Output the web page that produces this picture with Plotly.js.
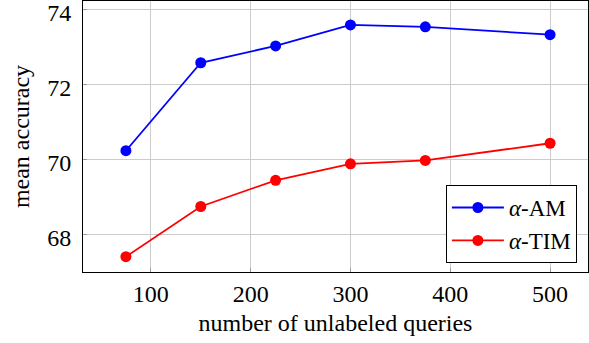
<!DOCTYPE html>
<html><head><meta charset="utf-8">
<script src="https://cdn.plot.ly/plotly-3.0.1.min.js"></script>
<style>html,body{margin:0;padding:0;background:#fff}#chart{width:589px;height:343px}</style>
</head><body><div id="chart"></div>
<script>
const queries = [75, 150, 225, 300, 375, 500];
const amAccuracy = [70.24, 72.59, 73.04, 73.6, 73.55, 73.34];
const timAccuracy = [67.41, 68.75, 69.45, 69.89, 69.98, 70.44];
const seriesNames = ['<i>α</i>-AM', '<i>α</i>-TIM'];
const xTicks = [100, 200, 300, 400, 500];
const yTicks = [68, 70, 72, 74];

const fam = 'Liberation Serif';
const fs = 24;
const traces = [
  {x: queries, y: amAccuracy, name: seriesNames[0], mode: 'lines+markers',
   line: {color: '#0000ff', width: 1.8}, marker: {color: '#0000ff', size: 11}},
  {x: queries, y: timAccuracy, name: seriesNames[1], mode: 'lines+markers',
   line: {color: '#ff0000', width: 1.8}, marker: {color: '#ff0000', size: 11}}
];
const layout = {
  width: 589, height: 343,
  margin: {l: 83, r: 1, t: 1, b: 71},
  paper_bgcolor: '#fff', plot_bgcolor: '#fff',
  font: {family: fam, size: fs, color: '#000'},
  showlegend: true,
  legend: {x: 0.978, y: 0.033, xanchor: 'right', yanchor: 'bottom',
    bgcolor: '#fff', bordercolor: '#000', borderwidth: 1,
    itemwidth: 52,
    font: {family: fam, size: 23, color: '#000'}, tracegroupgap: 0},
  xaxis: {range: [32, 538], tickvals: xTicks, ticktext: xTicks.map(String),
    showgrid: true, gridcolor: '#cccccc', gridwidth: 1,
    showline: true, linecolor: '#000', linewidth: 1, mirror: true,
    ticks: 'inside', ticklen: 4, tickcolor: '#999', zeroline: false,
    ticklabeloverflow: 'allow',
    tickfont: {family: fam, size: fs, color: '#000'},
    title: {text: 'number of unlabeled queries', font: {family: fam, size: fs, color: '#000'}, standoff: 8}},
  yaxis: {range: [67.0, 74.24], tickvals: yTicks, ticktext: yTicks.map(String),
    showgrid: true, gridcolor: '#cccccc', gridwidth: 1,
    showline: true, linecolor: '#000', linewidth: 1, mirror: true,
    ticks: 'inside', ticklen: 4, tickcolor: '#999', zeroline: false,
    ticklabeloverflow: 'allow', ticklabelstandoff: 6, ticklabelshift: 3,
    tickfont: {family: fam, size: fs, color: '#000'},
    title: {text: 'mean accuracy', font: {family: fam, size: fs, color: '#000'}, standoff: 10}}
};
Plotly.newPlot('chart', traces, layout, {staticPlot: true, displayModeBar: false});
</script></body></html>
